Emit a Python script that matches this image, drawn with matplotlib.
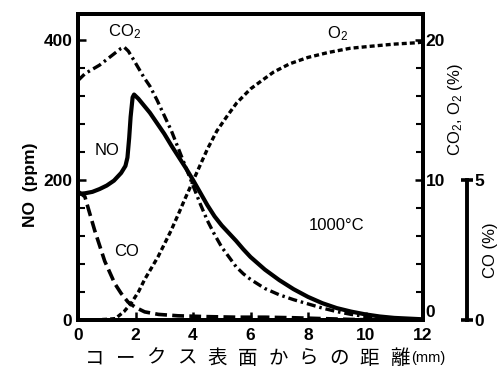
import matplotlib
matplotlib.use("Agg")
import matplotlib.pyplot as plt
from matplotlib.ticker import MultipleLocator

plt.rcParams['lines.scale_dashes'] = False
plt.rcParams['font.family'] = ['Liberation Sans', 'DejaVu Sans']
plt.rcParams['mathtext.fontset'] = 'custom'
plt.rcParams['mathtext.rm'] = 'Liberation Sans'
plt.rcParams['mathtext.it'] = 'Liberation Sans'

# ---- data ----
no_x = [0, 0.25, 0.5, 0.75, 1.0, 1.25, 1.5, 1.65, 1.72, 1.78, 1.83, 1.9, 1.95, 2.1, 2.3, 2.5,
        2.75, 3.0, 3.25, 3.5, 3.75, 4.0, 4.25, 4.5, 4.75, 5.0, 5.25, 5.5, 5.75, 6.0, 6.5, 7.0,
        7.5, 8.0, 8.5, 9.0, 9.5, 10.0, 10.5, 11.0, 11.5, 12.0]
no_ppm = [180, 181, 183, 187, 192, 199, 210, 220, 232, 260, 290, 318, 322, 316, 306, 296,
          281, 266, 249, 233, 217, 200, 182, 164, 148, 135, 124, 113, 101, 90, 72, 57,
          44, 33, 24, 17, 12, 8, 5, 3, 2, 1]

co2_x = [0, 0.25, 0.5, 0.75, 1.0, 1.25, 1.5, 1.6, 1.75, 1.9, 2.1, 2.3, 2.5, 2.75, 3.0, 3.25,
         3.5, 3.75, 4.0, 4.25, 4.5, 4.75, 5.0, 5.25, 5.5, 5.75, 6.0, 6.5, 7.0, 7.5, 8.0, 8.5,
         9.0, 9.5, 10.0, 11.0, 12.0]
co2_pct = [17.1, 17.6, 17.9, 18.2, 18.6, 19.0, 19.4, 19.5, 19.2, 18.7, 18.0, 17.3, 16.7, 15.7,
           14.6, 13.5, 12.2, 10.9, 9.6, 8.3, 7.1, 6.1, 5.2, 4.5, 3.8, 3.3, 2.9, 2.25, 1.8,
           1.45, 1.15, 0.85, 0.6, 0.4, 0.25, 0.1, 0.05]

o2_x = [0, 0.5, 1.0, 1.3, 1.6, 1.85, 2.1, 2.32, 2.55, 2.78, 3.0, 3.24, 3.5, 3.71, 4.06, 4.5,
        4.83, 5.2, 5.52, 6.0, 6.33, 6.8, 7.37, 8.0, 8.7, 9.46, 10.2, 11.0, 11.8, 12.0]
o2_pct = [0, 0, 0.05, 0.1, 0.6, 1.2, 2.0, 2.9, 3.7, 4.5, 5.4, 6.4, 7.6, 8.6, 10.2, 12.2,
          13.5, 14.6, 15.5, 16.5, 17.0, 17.7, 18.3, 18.75, 19.1, 19.4, 19.55, 19.7, 19.8, 19.85]

co_x = [0, 0.24, 0.58, 0.93, 1.28, 1.5, 1.74, 2.0, 2.32, 2.8, 3.48, 4.5, 5.5, 6.5, 7.5, 8.5,
        9.5, 10.5, 12.0]
co_pct = [4.6, 4.4, 3.2, 2.1, 1.3, 0.95, 0.64, 0.45, 0.29, 0.2, 0.15, 0.12, 0.1, 0.1, 0.08,
          0.05, 0.02, 0.0, 0.0]

x_ticks = [0, 2, 4, 6, 8, 10, 12]
no_ticks = [0, 200, 400]
pct_ticks = [0, 10, 20]
co_ticks = [0, 5]

# ---- figure ----
W, H = 498, 369
fig = plt.figure(figsize=(W / 100, H / 100), dpi=100)
L, R, T, B = 78, 423, 14, 320
ax = fig.add_axes([L / W, 1 - B / H, (R - L) / W, (B - T) / H])

NO_MAX = 437.0
ax.set_xlim(0, 12)
ax.set_ylim(0, NO_MAX)

ax2 = ax.twinx()
ax2.set_ylim(0, NO_MAX / 20)
ax3 = ax.twinx()
ax3.set_ylim(0, NO_MAX / 40)

for s in ax.spines.values():
    s.set_linewidth(2.8)
for s in ax2.spines.values():
    s.set_linewidth(2.8)

tick_font = dict(family='Liberation Sans', weight='bold', size=12.5)

# left axis
ax.set_xticks(x_ticks)
ax.set_xticklabels([str(v) for v in x_ticks], **tick_font)
ax.set_yticks(no_ticks)
ax.set_yticklabels([str(v) for v in no_ticks], **tick_font)
ax.yaxis.set_minor_locator(MultipleLocator(40))
ax.tick_params(axis='both', which='major', direction='in', length=6, width=1.8, pad=4)
ax.tick_params(axis='x', which='major', pad=6)
ax.tick_params(axis='y', which='minor', direction='in', length=5, width=1.5)

# right axis (CO2, O2 %)
ax2.set_yticks(pct_ticks)
ax2.set_yticklabels([str(v) for v in pct_ticks], **tick_font)
ax2.yaxis.set_minor_locator(MultipleLocator(2))
ax2.tick_params(axis='y', which='major', direction='in', length=6, width=1.8, pad=2)
ax2.tick_params(axis='y', which='minor', direction='in', length=5, width=1.5)
ax2.get_yticklabels()[0].set_va('bottom')

# CO axis
for k in ['left', 'top', 'bottom']:
    ax3.spines[k].set_visible(False)
ax3.spines['right'].set_position(('axes', (467 - L) / (R - L)))
ax3.spines['right'].set_bounds(0, 5)
ax3.spines['right'].set_linewidth(2.8)
ax3.set_yticks(co_ticks)
ax3.set_yticklabels([str(v) for v in co_ticks], **tick_font)
ax3.tick_params(axis='y', which='major', direction='inout', length=8, width=2.6, pad=1)

# ---- curves ----
ax.plot(no_x, no_ppm, color='black', lw=3.0, solid_capstyle='round', solid_joinstyle='round')
l_co2, = ax2.plot(co2_x, co2_pct, color='black', lw=2.4)
l_co2.set_dashes([6.5, 2.8, 1.8, 2.8])
l_o2, = ax2.plot(o2_x, o2_pct, color='black', lw=2.4)
l_o2.set_dashes([3.6, 2.2])
l_co, = ax3.plot(co_x, co_pct, color='black', lw=2.6)
l_co.set_dashes([8.5, 3.8])
for a in (ax, ax2, ax3):
    for ln in a.lines:
        ln.set_clip_on(False)

# ---- annotations ----
def atext(px, py, s, **kw):
    ax.text((px - L) / (R - L), (B - py) / (B - T), s, transform=ax.transAxes,
            ha='center', va='center', **kw)

lab_font = dict(family='Liberation Sans', size=12)
atext(125, 32, 'CO$_2$', **lab_font)
atext(338, 34, 'O$_2$', **lab_font)
atext(107, 150, 'NO', **lab_font)
atext(127, 252, 'CO', **lab_font)
atext(337, 225, '1000°C', **lab_font)

# axis labels
fig.text(30 / W, 1 - 185 / H, 'NO  (ppm)', rotation=90, ha='center', va='center',
         family='Liberation Sans', size=12.5, weight='bold')
fig.text(455 / W, 1 - 110 / H, 'CO$_2$, O$_2$ (%)', rotation=90, ha='center', va='center',
         family='Liberation Sans', size=12)
fig.text(490 / W, 1 - 250 / H, 'CO (%)', rotation=90, ha='center', va='center',
         family='Liberation Sans', size=12)

# x label (spaced characters)
xlabel_chars = ['コ', 'ー', 'ク', 'ス', '表', '面', 'か', 'ら', 'の', '距', '離']
x0, step = 95, 30.5
for i, ch in enumerate(xlabel_chars):
    fig.text((x0 + i * step) / W, 1 - 358 / H, ch, ha='center', va='center',
             family=['Noto Sans CJK JP', 'DejaVu Sans'], size=14)
fig.text(428 / W, 1 - 358 / H, '(mm)', ha='center', va='center',
         family='Liberation Sans', size=10.5)

fig.savefig('out.png', dpi=100, facecolor='white')
